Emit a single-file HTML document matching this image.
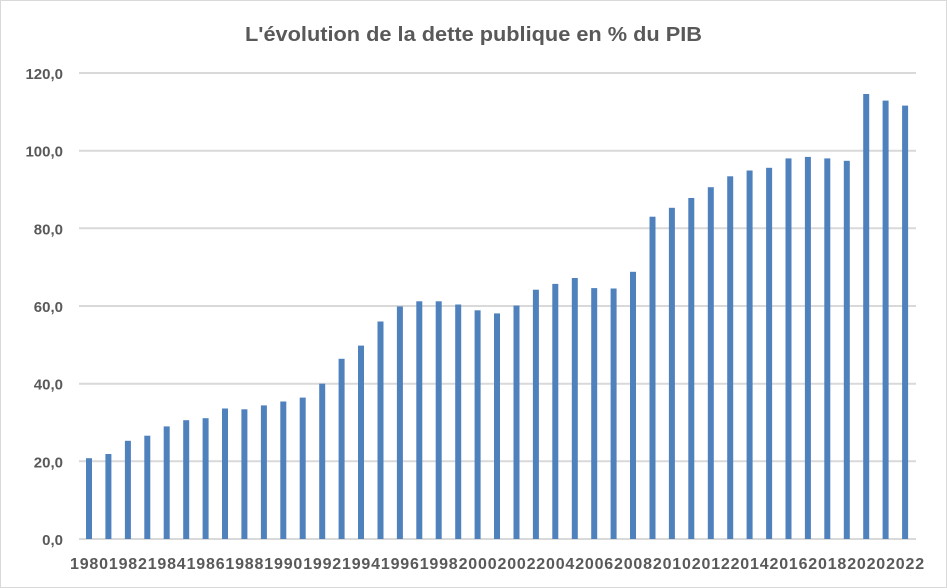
<!DOCTYPE html>
<html><head><meta charset="utf-8"><style>
html,body{margin:0;padding:0;background:#fff;}
svg{display:block;font-family:"Liberation Sans",Arial,sans-serif;}
</style></head><body>
<svg width="947" height="588" xmlns="http://www.w3.org/2000/svg">
<rect x="0.5" y="0.5" width="946" height="587" fill="#fff" stroke="#d9d9d9"/>
<text x="473.5" y="41" text-anchor="middle" font-size="20" font-weight="bold" fill="#595959" textLength="457" lengthAdjust="spacingAndGlyphs">L'évolution de la dette publique en % du PIB</text>
<g stroke="#d9d9d9" stroke-width="2">
<line x1="79" x2="916" y1="73" y2="73"/>
<line x1="79" x2="916" y1="150.7" y2="150.7"/>
<line x1="79" x2="916" y1="228.3" y2="228.3"/>
<line x1="79" x2="916" y1="306" y2="306"/>
<line x1="79" x2="916" y1="383.7" y2="383.7"/>
<line x1="79" x2="916" y1="461.3" y2="461.3"/>
<line x1="79" x2="916" y1="539" y2="539"/>
</g>
<g font-size="15" font-weight="bold" fill="#595959" text-anchor="end">
<text x="63" y="79">120,0</text>
<text x="63" y="156.7">100,0</text>
<text x="63" y="234.3">80,0</text>
<text x="63" y="312">60,0</text>
<text x="63" y="389.7">40,0</text>
<text x="63" y="467.3">20,0</text>
<text x="63" y="545">0,0</text>
</g>
<g fill="#4f81bd">
<rect x="86" y="458.2" width="6" height="80.8"/>
<rect x="105.4" y="454" width="6" height="85"/>
<rect x="124.9" y="440.8" width="6" height="98.2"/>
<rect x="144.3" y="435.7" width="6" height="103.3"/>
<rect x="163.7" y="426.4" width="6" height="112.6"/>
<rect x="183.2" y="420.2" width="6" height="118.8"/>
<rect x="202.6" y="418.2" width="6" height="120.8"/>
<rect x="222" y="408.5" width="6" height="130.5"/>
<rect x="241.4" y="409.3" width="6" height="129.7"/>
<rect x="260.9" y="405.4" width="6" height="133.6"/>
<rect x="280.3" y="401.5" width="6" height="137.5"/>
<rect x="299.7" y="397.6" width="6" height="141.4"/>
<rect x="319.2" y="383.7" width="6" height="155.3"/>
<rect x="338.6" y="358.8" width="6" height="180.2"/>
<rect x="358" y="345.6" width="6" height="193.4"/>
<rect x="377.5" y="321.5" width="6" height="217.5"/>
<rect x="396.9" y="306.4" width="6" height="232.6"/>
<rect x="416.3" y="301.3" width="6" height="237.7"/>
<rect x="435.7" y="301.3" width="6" height="237.7"/>
<rect x="455.2" y="304.5" width="6" height="234.5"/>
<rect x="474.6" y="310.3" width="6" height="228.7"/>
<rect x="494" y="313.4" width="6" height="225.6"/>
<rect x="513.5" y="305.6" width="6" height="233.4"/>
<rect x="532.9" y="289.7" width="6" height="249.3"/>
<rect x="552.3" y="283.9" width="6" height="255.1"/>
<rect x="571.8" y="278" width="6" height="261"/>
<rect x="591.2" y="288.1" width="6" height="250.9"/>
<rect x="610.6" y="288.5" width="6" height="250.5"/>
<rect x="630" y="271.8" width="6" height="267.2"/>
<rect x="649.5" y="216.7" width="6" height="322.3"/>
<rect x="668.9" y="207.8" width="6" height="331.2"/>
<rect x="688.3" y="198" width="6" height="341"/>
<rect x="707.8" y="187.2" width="6" height="351.8"/>
<rect x="727.2" y="176.3" width="6" height="362.7"/>
<rect x="746.6" y="170.5" width="6" height="368.5"/>
<rect x="766.1" y="167.8" width="6" height="371.2"/>
<rect x="785.5" y="158.4" width="6" height="380.6"/>
<rect x="804.9" y="156.9" width="6" height="382.1"/>
<rect x="824.3" y="158.4" width="6" height="380.6"/>
<rect x="843.8" y="160.8" width="6" height="378.2"/>
<rect x="863.2" y="94" width="6" height="445"/>
<rect x="882.6" y="100.6" width="6" height="438.4"/>
<rect x="902.1" y="105.6" width="6" height="433.4"/>
</g>
<g font-size="16" font-weight="bold" fill="#595959" text-anchor="middle" lengthAdjust="spacingAndGlyphs">
<text x="89" y="569" textLength="38">1980</text>
<text x="127.9" y="569" textLength="38">1982</text>
<text x="166.7" y="569" textLength="38">1984</text>
<text x="205.6" y="569" textLength="38">1986</text>
<text x="244.4" y="569" textLength="38">1988</text>
<text x="283.3" y="569" textLength="38">1990</text>
<text x="322.2" y="569" textLength="38">1992</text>
<text x="361" y="569" textLength="38">1994</text>
<text x="399.9" y="569" textLength="38">1996</text>
<text x="438.7" y="569" textLength="38">1998</text>
<text x="477.6" y="569" textLength="38">2000</text>
<text x="516.5" y="569" textLength="38">2002</text>
<text x="555.3" y="569" textLength="38">2004</text>
<text x="594.2" y="569" textLength="38">2006</text>
<text x="633" y="569" textLength="38">2008</text>
<text x="671.9" y="569" textLength="38">2010</text>
<text x="710.8" y="569" textLength="38">2012</text>
<text x="749.6" y="569" textLength="38">2014</text>
<text x="788.5" y="569" textLength="38">2016</text>
<text x="827.3" y="569" textLength="38">2018</text>
<text x="866.2" y="569" textLength="38">2020</text>
<text x="905.1" y="569" textLength="38">2022</text>
</g>
</svg>
</body></html>
